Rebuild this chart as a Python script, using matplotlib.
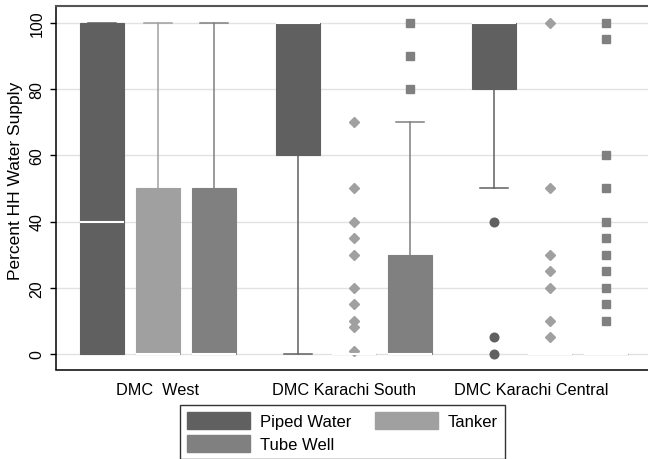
import matplotlib
matplotlib.use("Agg")
import matplotlib.pyplot as plt
from matplotlib.patches import Patch
import numpy as np

plt.rcParams['font.family'] = ['Liberation Sans', 'DejaVu Sans']

# groups on the x axis and the three water sources
groups = ["DMC  West", "DMC Karachi South", "DMC Karachi Central"]
series = ["Piped Water", "Tanker", "Tube Well"]

# box statistics per group (West, South, Central)
piped_q1 = [0, 60, 80]
piped_med = [40, 100, 100]
piped_q3 = [100, 100, 100]
piped_lo = [0, 0, 50]
piped_hi = [100, 100, 100]
piped_out = [[], [], [40, 5, 0]]

tanker_q1 = [0, 0, 0]
tanker_med = [0, 0, 0]
tanker_q3 = [50, 0, 0]
tanker_lo = [0, 0, 0]
tanker_hi = [100, 0, 0]
tanker_out = [[], [70, 50, 40, 35, 30, 20, 15, 10, 8, 1],
              [100, 50, 30, 25, 20, 10, 5]]

tube_q1 = [0, 0, 0]
tube_med = [0, 0, 0]
tube_q3 = [50, 30, 0]
tube_lo = [0, 0, 0]
tube_hi = [100, 70, 0]
tube_out = [[], [100, 90, 80],
            [100, 95, 60, 50, 40, 35, 30, 25, 20, 15, 10]]

colors = ["#606060", "#a0a0a0", "#808080"]
markers = [("o", 6.2), ("D", 5.3), ("s", 6.2)]

all_stats = [
    (piped_q1, piped_med, piped_q3, piped_lo, piped_hi, piped_out),
    (tanker_q1, tanker_med, tanker_q3, tanker_lo, tanker_hi, tanker_out),
    (tube_q1, tube_med, tube_q3, tube_lo, tube_hi, tube_out),
]

fig = plt.figure(figsize=(6.48, 4.6), dpi=100)
ax = fig.add_axes([55.5 / 648, 1 - 370.5 / 460, 1 - 55.5 / 648, 363.5 / 460])

group_start = np.array([0.0, 3.5, 7.0])

for s, (q1, med, q3, lo, hi, out) in enumerate(all_stats):
    c = colors[s]
    mk, ms = markers[s]
    stats = []
    for g in range(len(groups)):
        stats.append(dict(q1=q1[g], med=med[g], q3=q3[g], whislo=lo[g],
                          whishi=hi[g], fliers=np.array(out[g], dtype=float)))
    ax.bxp(stats, positions=group_start + s, widths=0.77, capwidths=0.5,
           patch_artist=True, showfliers=True,
           boxprops=dict(facecolor=c, edgecolor=c, linewidth=0.8),
           medianprops=dict(color="white", linewidth=1.5, zorder=4),
           whiskerprops=dict(color=c, linewidth=1.1),
           capprops=dict(color=c, linewidth=1.1),
           flierprops=dict(marker=mk, markersize=ms, markerfacecolor=c,
                           markeredgecolor=c, linestyle="none"))

ax.set_xlim(-0.83, 9.75)
ax.set_ylim(-4.7, 105.1)
ax.set_yticks([0, 20, 40, 60, 80, 100])
ax.set_yticklabels(["0", "20", "40", "60", "80", "100"], rotation=90,
                   va="center", fontsize=11.5)
ax.set_xticks([1.0, 4.32, 7.66])
ax.set_xticklabels(groups, fontsize=11.7)
ax.tick_params(axis="x", length=0, pad=9)
ax.tick_params(axis="y", length=4, width=1, pad=4)

ax.yaxis.grid(True, color="#e2e2e2", linewidth=1)
ax.set_axisbelow(True)
ax.spines["right"].set_visible(False)
ax.spines["top"].set_color("#555555")
ax.spines["top"].set_linewidth(1.5)
for side in ["left", "bottom"]:
    ax.spines[side].set_linewidth(1.1)
    ax.spines[side].set_color("black")

fig.text(16 / 648, 1 - 180.5 / 460, "Percent HH Water Supply", rotation=90,
         ha="center", va="center", fontsize=12.5)

handles = [Patch(facecolor=colors[0], edgecolor=colors[0]),
           Patch(facecolor=colors[2], edgecolor=colors[2]),
           Patch(facecolor=colors[1], edgecolor=colors[1])]
labels = [series[0], series[2], series[1]]
leg = fig.legend(handles, labels, ncol=2, loc="upper left",
                 bbox_to_anchor=(180 / 648, 1 - 406 / 460), borderaxespad=0,
                 fontsize=12, frameon=True, fancybox=False,
                 handlelength=3.8, handleheight=1.2, handletextpad=0.6,
                 columnspacing=1.4, labelspacing=0.35, borderpad=0.4)
leg.get_frame().set_edgecolor("black")
leg.get_frame().set_linewidth(1)

fig.savefig("out.png", dpi=100)
